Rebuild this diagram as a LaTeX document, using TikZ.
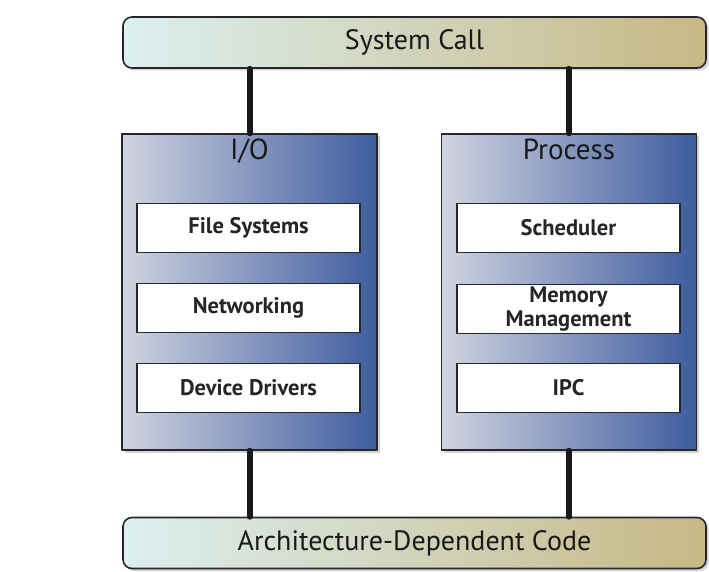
\documentclass[tikz,border=0pt]{standalone}
\usepackage{fontspec}
\setmainfont{PT Sans}
\usepackage{tikz}
\usetikzlibrary{positioning}
\usetikzlibrary{shadows}
\definecolor{barleft}{rgb}{0.86, 0.94, 0.94}
\definecolor{barmid}{rgb}{0.80, 0.78, 0.70}
\definecolor{barright}{rgb}{0.78, 0.72, 0.52}
\definecolor{boxleft}{rgb}{0.82, 0.83, 0.88}
\definecolor{boxright}{rgb}{0.24, 0.36, 0.62}
\definecolor{edge}{rgb}{0.15, 0.15, 0.17}
\tikzset{
  bar/.style={draw=edge,line width=1.6pt,rounded corners=9pt,left color=barleft,middle color=barmid,right color=barright,
    minimum width=583pt,minimum height=51pt,font=\fontsize{28}{30}\selectfont,text=black!90,drop shadow={opacity=0.35}},
  group/.style={draw=edge,line width=1.4pt,left color=boxleft,right color=boxright,
    minimum width=255pt,minimum height=316pt,drop shadow={opacity=0.35}},
  title/.style={font=\fontsize{29}{31}\selectfont,text=black!90},
  part/.style={draw=edge,line width=1.4pt,fill=white,minimum width=223pt,minimum height=49pt,
    font=\fontsize{22.5}{24}\selectfont\bfseries,text=black!85,align=center},
  link/.style={line width=6pt,color=black!90}
}
\begin{document}
\begin{tikzpicture}[line cap=round,line join=round,x=1pt,y=-1pt]
\useasboundingbox (0,0) rectangle (709,572);
\node[bar] (syscall) at (414.5,42.5) {System Call};
\node[bar] (arch) at (414.5,543) {Architecture-Dependent Code};
\node[group] (io) at (249.5,292) {};
\node[group] (proc) at (569,292) {};
\node[title,below=2pt of io.north] (iotitle) {I/O};
\node[title,below=2pt of proc.north] (proctitle) {Process};
\node[part] (fs) at (248.5,228) {File Systems};
\node[part] (net) at (248.5,308) {Networking};
\node[part] (dev) at (248.5,388) {Device Drivers};
\node[part] (sched) at (568.5,228) {Scheduler};
\node[part,inner sep=0pt] (mem) at (568.5,309) {Memory\\[0pt]Management};
\node[part] (ipc) at (568.5,388) {IPC};
\draw[link] (io.north) -- (io.north |- syscall.south);
\draw[link] (proc.north) -- (proc.north |- syscall.south);
\draw[link] (io.south) -- (io.south |- arch.north);
\draw[link] (proc.south) -- (proc.south |- arch.north);
\end{tikzpicture}
\end{document}
